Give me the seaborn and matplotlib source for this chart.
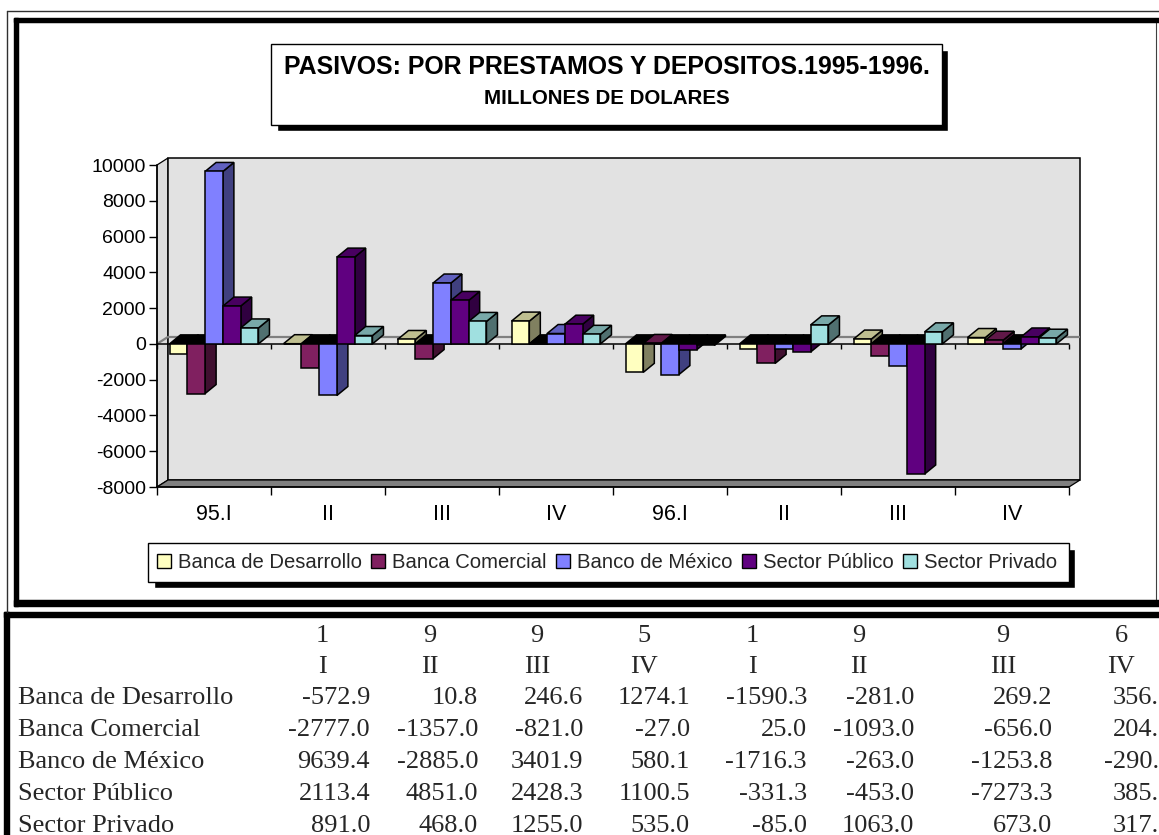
import numpy as np
import pandas as pd
import matplotlib
matplotlib.use("Agg")
import matplotlib.pyplot as plt
from matplotlib.patches import Polygon, Rectangle, Patch
from matplotlib.colors import to_rgb
import seaborn as sns

# ---- data -------------------------------------------------------------
periodos = ["95.I", "95.II", "95.III", "95.IV", "96.I", "96.II", "96.III", "96.IV"]
etiquetas_eje = ["95.I", "II", "III", "IV", "96.I", "II", "III", "IV"]
digitos_anio = ["1", "9", "9", "5", "1", "9", "9", "6"]
trimestres = ["I", "II", "III", "IV", "I", "II", "III", "IV"]
series = ["Banca de Desarrollo", "Banca Comercial", "Banco de México",
          "Sector Público", "Sector Privado"]

banca_desarrollo = [-572.9, 10.8, 246.6, 1274.1, -1590.3, -281.0, 269.2, 356.1]
banca_comercial = [-2777.0, -1357.0, -821.0, -27.0, 25.0, -1093.0, -656.0, 204.0]
banco_mexico = [9639.4, -2885.0, 3401.9, 580.1, -1716.3, -263.0, -1253.8, -290.7]
sector_publico = [2113.4, 4851.0, 2428.3, 1100.5, -331.3, -453.0, -7273.3, 385.9]
sector_privado = [891.0, 468.0, 1255.0, 535.0, -85.0, 1063.0, 673.0, 317.0]

colores = ["#FFFFC0", "#802060", "#8080FF", "#600080", "#A0E0E0"]

valores = [banca_desarrollo, banca_comercial, banco_mexico, sector_publico, sector_privado]
df = pd.DataFrame({
    "periodo": np.tile(periodos, len(series)),
    "serie": np.repeat(series, len(periodos)),
    "valor": np.concatenate(valores),
})

# ---- style ------------------------------------------------------------
sns.set_theme(style="white")
plt.rcParams["font.family"] = ["Liberation Sans", "DejaVu Sans"]
plt.rcParams["axes.unicode_minus"] = False

W, H = 1159, 835
fig = plt.figure(figsize=(W / 100, H / 100), dpi=100)
fig.patch.set_facecolor("white")

# full-page layer in pixel units for frames, title, legend and table
bg = fig.add_axes([0, 0, 1, 1], zorder=0)
bg.set_xlim(0, W)
bg.set_ylim(H, 0)
bg.axis("off")

# outer thin frame
bg.plot([7, 7], [11, 612], color="#303030", lw=1)
bg.plot([7, W], [11, 11], color="#303030", lw=1)
# chart area with heavy border
bg.add_patch(Rectangle((17.5, 21.5), 1138, 578, facecolor="white",
                       edgecolor="#404040", lw=0.8))
bg.add_patch(Rectangle((14, 18), W - 14, 3.5, color="black"))
bg.add_patch(Rectangle((14, 18), 3.5, 587.5, color="black"))
bg.add_patch(Rectangle((14, 600), W - 14, 5.5, color="black"))
# data sheet border
bg.add_patch(Rectangle((4, 612), W - 4, 5, color="black"))
bg.add_patch(Rectangle((4, 612), 5, H - 612, color="black"))

# title box with drop shadow
bg.add_patch(Rectangle((277, 50), 671, 81, facecolor="black"))
bg.add_patch(Rectangle((271, 44), 671, 81, facecolor="white", edgecolor="black", lw=1))
bg.text(607, 67, "PASIVOS: POR PRESTAMOS Y DEPOSITOS.1995-1996.", ha="center",
        va="center", fontsize=17.9, fontweight="bold", color="black")
bg.text(607, 98, "MILLONES DE DOLARES", ha="center", va="center",
        fontsize=14.8, fontweight="bold", color="black")

# legend box with drop shadow
bg.add_patch(Rectangle((154, 549), 921, 39, facecolor="black"))
bg.add_patch(Rectangle((148, 543), 921, 39, facecolor="white", edgecolor="black", lw=1))
handles = [Patch(facecolor=c, edgecolor="black", linewidth=1) for c in colores]
bg.legend(handles, series, loc="center", bbox_to_anchor=(607, 562.5),
          bbox_transform=bg.transData, ncol=5, frameon=False, fontsize=14.6,
          handlelength=0.7, handleheight=0.7, handletextpad=0.35,
          columnspacing=0.45, borderpad=0, borderaxespad=0)

# ---- 3-D style clustered bar chart -----------------------------------
PXU = 114.0            # pixels per category
PYU = 322.0 / 18000.0  # pixels per million
DX, DY = 11 / PXU, 7 / PYU      # wall depth
DXB, DYB = 11 / PXU, 9 / PYU    # bar depth
X0, YB = 157, 487
AW = (8 + DX) * PXU
AH = (18000 + DY) * PYU
ax = fig.add_axes([X0 / W, 1 - YB / H, AW / W, AH / H], zorder=2)
ax.set_facecolor("none")

sns.barplot(data=df, x="periodo", y="valor", hue="serie", order=periodos,
            hue_order=series, palette=colores, saturation=1, width=0.78,
            edgecolor="black", linewidth=1.1, errorbar=None, legend=False, ax=ax)

ax.set_xlim(-0.5, 7.5 + DX)
ax.set_ylim(-8000, 10000 + DY)

# walls and floor
ax.add_patch(Polygon([(-0.5, -8000), (-0.5 + DX, -8000 + DY), (-0.5 + DX, 10000 + DY),
                      (-0.5, 10000)], closed=True, facecolor="#dcdcdc",
                     edgecolor="black", lw=0.9, zorder=0.5, clip_on=False))
ax.add_patch(Rectangle((-0.5 + DX, -8000 + DY), 8, 18000, facecolor="#e2e2e2",
                       edgecolor="black", lw=1.1, zorder=0.6, clip_on=False))
ax.add_patch(Polygon([(-0.5, -8000), (7.5, -8000), (7.5 + DX, -8000 + DY),
                      (-0.5 + DX, -8000 + DY)], closed=True, facecolor="#808080",
                     edgecolor="black", lw=0.9, zorder=0.7, clip_on=False))
# zero reference on the walls
ax.plot([-0.5 + DX, 7.5 + DX], [DY, DY], color="#808080", lw=1.6, zorder=0.8,
        solid_capstyle="butt")
ax.plot([-0.5, -0.5 + DX], [0, DY], color="#808080", lw=1.6, zorder=0.8)
# category axis at zero with boundary ticks
limites = np.arange(-0.5, 8.0, 1.0)
ax.plot([-0.5, 7.5], [0, 0], color="black", lw=1.1, zorder=0.9)
ax.vlines(limites, -5 / PYU, 0, color="black", lw=1.0, zorder=0.9)

# depth faces for every bar, painted left to right
barras = sorted([p for p in ax.patches if isinstance(p, Rectangle)
                 and p.get_width() < 0.5 and p.get_zorder() >= 0.9
                 and p.get_facecolor()[3] > 0], key=lambda p: p.get_x())
for i, p in enumerate(barras):
    x0, w, h = p.get_x(), p.get_width(), p.get_height()
    x1 = x0 + w
    base = 2 + 3 * i
    rgb = np.array(to_rgb(p.get_facecolor()))
    arriba, abajo = (h, 0.0) if h >= 0 else (0.0, h)
    lado = [(x1, abajo), (x1, arriba), (x1 + DXB, arriba + DYB), (x1 + DXB, abajo + DYB)]
    tapa = [(x0, arriba), (x1, arriba), (x1 + DXB, arriba + DYB), (x0 + DXB, arriba + DYB)]
    color_tapa = rgb * 0.75 if h >= 0 else (0, 0, 0)
    ax.add_patch(Polygon(lado, closed=True, facecolor=rgb * 0.5, edgecolor="black",
                         lw=1.1, zorder=base))
    ax.add_patch(Polygon(tapa, closed=True, facecolor=color_tapa, edgecolor="black",
                         lw=1.1, zorder=base + 1))
    p.set_zorder(base + 2)

# axes styling
for s in ("top", "right"):
    ax.spines[s].set_visible(False)
ax.spines["left"].set_bounds(-8000, 10000)
ax.spines["bottom"].set_bounds(-0.5, 7.5)
for s in ("left", "bottom"):
    ax.spines[s].set_color("black")
    ax.spines[s].set_linewidth(1.1)
    ax.spines[s].set_zorder(1)
ax.set_yticks(np.arange(-8000, 10001, 2000))
ax.set_xticks(limites)
ax.set_xticklabels([""] * len(limites))
ax.set_xticks(range(len(periodos)), minor=True)
ax.set_xticklabels(etiquetas_eje, minor=True)
ax.tick_params(axis="y", length=6, width=1, color="black", labelsize=14,
               labelcolor="black", pad=2, direction="out", left=True)
ax.tick_params(axis="x", which="major", length=6, width=1, color="black",
               direction="out", bottom=True)
ax.tick_params(axis="x", which="minor", length=0, pad=12, labelsize=15.5,
               labelcolor="black")
ax.set_xlabel("")
ax.set_ylabel("")
ax.grid(False)

# ---- data sheet -------------------------------------------------------
serif = ["Liberation Serif", "DejaVu Serif"]
centros = [322, 430, 537, 644, 752, 859, 1003, 1121]
bordes = [370, 478, 583, 690, 807, 914, 1052, 1172]
fs_tabla = 19
for c, d, t in zip(centros, digitos_anio, trimestres):
    bg.text(c, 642, d, ha="center", va="baseline", family=serif, fontsize=fs_tabla)
    bg.text(c, 673, t, ha="center", va="baseline", family=serif, fontsize=fs_tabla)
for r, (nombre, fila) in enumerate(zip(series, valores)):
    y = 704 + 32 * r
    bg.text(18, y, nombre, ha="left", va="baseline", family=serif, fontsize=fs_tabla)
    for b, v in zip(bordes, fila):
        bg.text(b, y, f"{v:.1f}", ha="right", va="baseline", family=serif,
                fontsize=fs_tabla, clip_on=False)

fig.savefig("out.png", dpi=100)
